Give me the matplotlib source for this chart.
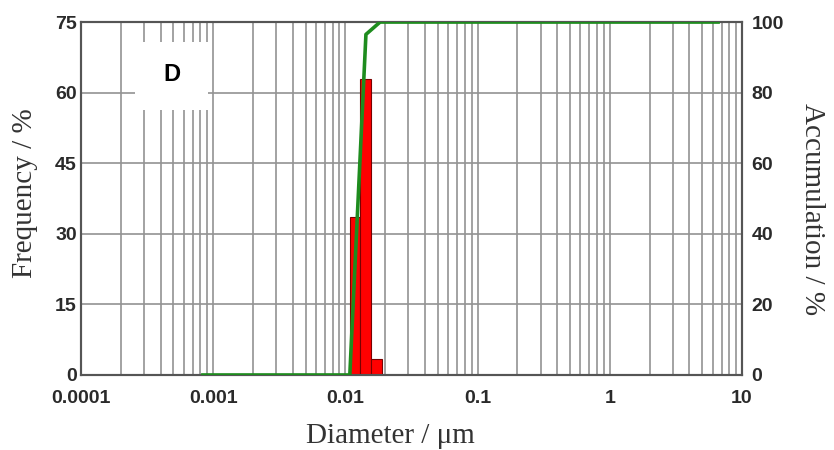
import matplotlib
matplotlib.use("Agg")
import matplotlib.pyplot as plt
from matplotlib.patches import Rectangle

# ---- data ----
bin_left = [0.0108, 0.0129, 0.0155]
bin_right = [0.0129, 0.0155, 0.0188]
frequency = [33.5, 63.0, 3.5]

cum_x = [0.00081, 0.0108, 0.0143, 0.0183, 6.8]
cum_y = [0, 0, 96.5, 100, 100]

x_ticks = [0.0001, 0.001, 0.01, 0.1, 1, 10]
x_tick_labels = ["0.0001", "0.001", "0.01", "0.1", "1", "10"]
freq_ticks = [0, 15, 30, 45, 60, 75]
acc_ticks = [0, 20, 40, 60, 80, 100]
panel_label = "D"
x_title = "Diameter / μm"
y_title = "Frequency / %"
y2_title = "Accumulation / %"

# ---- figure ----
fig = plt.figure(figsize=(8.34, 4.5), dpi=100)
ax = fig.add_axes([0.0971, 0.1667, 0.7926, 0.7843])

ax.set_xscale("log")
ax.set_xlim(1e-4, 10)
ax.set_ylim(0, 75)
ax.set_axisbelow(True)

grid_c = "#929292"
ax.grid(True, which="both", axis="x", color=grid_c, lw=1.2)
ax.grid(True, which="major", axis="y", color=grid_c, lw=1.2)

widths = [r - l for l, r in zip(bin_left, bin_right)]
ax.bar(bin_left, frequency, width=widths, align="edge", color="#ff0000",
       edgecolor="#7a0000", lw=0.8, zorder=3)

ax.set_xticks(x_ticks)
ax.set_xticklabels(x_tick_labels)
ax.set_yticks(freq_ticks)
ax.tick_params(axis="x", which="both", length=0, pad=11)
ax.tick_params(axis="y", which="both", length=0, pad=3)
tick_font = dict(family="Liberation Sans", weight="bold", size=14)
for lab in ax.get_xticklabels() + ax.get_yticklabels():
    lab.set_fontfamily(tick_font["family"])
    lab.set_fontweight(tick_font["weight"])
    lab.set_fontsize(tick_font["size"])
    lab.set_color("#2a2a2a")

for s in ax.spines.values():
    s.set_color("#555555")
    s.set_linewidth(1.5)

# white box behind panel label
ax.add_patch(Rectangle((0.0817, 0.751), 0.111, 0.193, transform=ax.transAxes,
                       facecolor="white", edgecolor="none", zorder=2))
ax.text(0.137, 0.85, panel_label, transform=ax.transAxes, ha="center", va="center",
        fontsize=17, fontweight="bold", family="Liberation Sans", zorder=4)

ax2 = ax.twinx()
ax2.set_ylim(0, 100)
ax2.set_yticks(acc_ticks)
ax2.tick_params(axis="y", length=0, pad=7)
for lab in ax2.get_yticklabels():
    lab.set_fontfamily(tick_font["family"])
    lab.set_fontweight(tick_font["weight"])
    lab.set_fontsize(tick_font["size"])
    lab.set_color("#2a2a2a")
for s in ax2.spines.values():
    s.set_color("#555555")
    s.set_linewidth(1.5)
ax2.plot(cum_x, cum_y, color="#1e8c1e", lw=2.6, zorder=5, solid_capstyle="butt")

label_font = dict(family="Liberation Serif", size=21, color="#333333")
fig.text(390 / 834, 1 - 436 / 450, x_title, ha="center", va="center", **label_font)
fig.text(25 / 834, 1 - 193 / 450, y_title, ha="center", va="center", rotation=90,
         **label_font)
fig.text(812 / 834, 1 - 209 / 450, y2_title, ha="center", va="center", rotation=-90,
         **label_font)

fig.savefig("out.png", dpi=100)
